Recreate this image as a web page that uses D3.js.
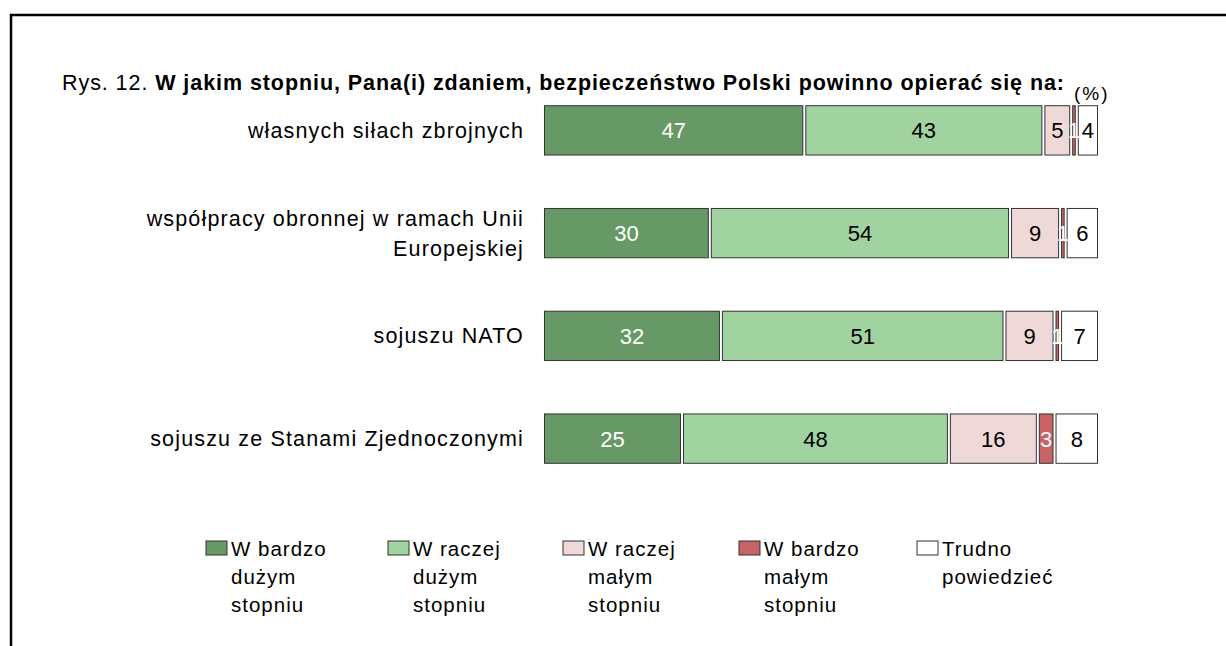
<!DOCTYPE html>
<html>
<head>
<meta charset="utf-8">
<script src="https://cdn.jsdelivr.net/npm/d3@7"></script>
<style>
  body { margin: 0; background: #fff; }
  svg { display: block; font-family: "Liberation Sans", Arial, sans-serif; }
</style>
</head>
<body>
<svg id="chart"></svg>
<script>
const categories = [
    ["własnych siłach zbrojnych"],
    ["współpracy obronnej w ramach Unii", "Europejskiej"],
    ["sojuszu NATO"],
    ["sojuszu ze Stanami Zjednoczonymi"]
];
const seriesNames = [
    ["W bardzo", "dużym", "stopniu"],
    ["W raczej", "dużym", "stopniu"],
    ["W raczej", "małym", "stopniu"],
    ["W bardzo", "małym", "stopniu"],
    ["Trudno", "powiedzieć"]
];
const bardzoDuzym = [47, 30, 32, 25];
const raczejDuzym = [43, 54, 51, 48];
const raczejMalym = [5, 9, 9, 16];
const bardzoMalym = [1, 1, 1, 3];
const trudno = [4, 6, 7, 8];

const colors = ["#669966", "#a0d3a0", "#eed8d8", "#c86464", "#ffffff"];
const labelColors = ["#fff", "#000", "#000", "#fff", "#000"];

const width = 1226, height = 646;
const svg = d3.select("#chart").attr("width", width).attr("height", height);

// frame
svg.append("path")
    .attr("d", `M11,${height + 5} L11,15 L${width + 5},15`)
    .attr("fill", "none").attr("stroke", "#000").attr("stroke-width", 2.5);

// title
const title = svg.append("text").attr("x", 62).attr("y", 90)
    .attr("font-size", 21.5).attr("letter-spacing", 0.93);
title.append("tspan").text("Rys. 12. ");
title.append("tspan").attr("font-weight", "bold")
    .text("W jakim stopniu, Pana(i) zdaniem, bezpieczeństwo Polski powinno opierać się na:");

svg.append("text").attr("x", 1074).attr("y", 100)
    .attr("font-size", 19).attr("letter-spacing", 2).text("(%)");

const series = [bardzoDuzym, raczejDuzym, raczejMalym, bardzoMalym, trudno];
const rows = categories.map((c, i) => {
    let acc = 0;
    return series.map((s, k) => {
        const seg = { row: i, k, v: s[i], x0: acc, x1: acc + s[i] };
        acc += s[i];
        return seg;
    });
});

const x = d3.scaleLinear().domain([0, 100]).range([543, 1099]);
const y = d3.scaleBand().domain(d3.range(categories.length))
    .range([79, 490]).paddingInner(0.52).paddingOuter(0.26);

const g = svg.append("g");
rows.forEach(segs => {
    const rg = g.append("g");
    rg.selectAll("rect").data(segs).enter().append("rect")
        .attr("x", d => x(d.x0) + 1.5)
        .attr("y", d => y(d.row))
        .attr("width", d => Math.max(x(d.x1) - x(d.x0) - 3, 1))
        .attr("height", y.bandwidth())
        .attr("fill", d => colors[d.k])
        .attr("stroke", "#333").attr("stroke-width", 1);
    rg.selectAll("text").data(segs).enter().append("text")
        .attr("x", d => (x(d.x0) + x(d.x1)) / 2)
        .attr("y", d => y(d.row) + y.bandwidth() / 2 + 8)
        .attr("text-anchor", "middle")
        .attr("font-size", 22)
        .attr("fill", d => labelColors[d.k])
        .text(d => d.v);
});

// category labels
categories.forEach((lines, i) => {
    const t = svg.append("text").attr("text-anchor", "end")
        .attr("font-size", 21.5).attr("letter-spacing", 1.15);
    const cy = y(i) + y.bandwidth() / 2;
    const y0 = cy + 7.5 - (lines.length - 1) * 15;
    lines.forEach((l, j) => {
        t.append("tspan").attr("x", 524).attr("y", y0 + j * 30).text(l);
    });
});

// legend
const legendX = [206, 388, 563, 739, 917];
const lg = svg.append("g");
seriesNames.forEach((lines, k) => {
    lg.append("rect").attr("x", legendX[k]).attr("y", 541)
        .attr("width", 21).attr("height", 14)
        .attr("fill", colors[k]).attr("stroke", "#333").attr("stroke-width", 1);
    const t = lg.append("text").attr("font-size", 20.5).attr("letter-spacing", 1);
    lines.forEach((l, j) => {
        t.append("tspan").attr("x", legendX[k] + 25).attr("y", 555.5 + j * 28).text(l);
    });
});
</script>
</body>
</html>
